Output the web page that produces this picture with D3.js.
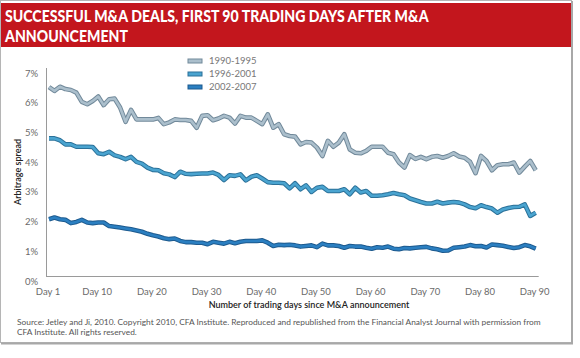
<!DOCTYPE html>
<html><head><meta charset="utf-8">
<script src="https://cdn.jsdelivr.net/npm/d3@7"></script>
<style>
html,body{margin:0;padding:0;background:#fff;}
svg{display:block;}
text{font-family:Lato,"Open Sans",sans-serif;}
</style></head>
<body>
<svg id="c" width="580" height="358"></svg>
<script>
const titleLines = ["SUCCESSFUL M&A DEALS, FIRST 90 TRADING DAYS AFTER M&A", "ANNOUNCEMENT"];
const seriesNames = ["1990-1995", "1996-2001", "2002-2007"];
const days = d3.range(1, 91);
const s1990 = [6.36,6.23,6.37,6.29,6.26,6.17,5.86,5.78,5.89,6.04,5.75,5.95,5.97,5.67,5.19,5.59,5.27,5.27,5.27,5.27,5.32,5.11,5.17,5.27,5.25,5.25,5.22,4.99,5.39,5.41,5.24,5.30,5.39,5.33,5.13,5.39,5.33,5.33,5.22,5.11,5.44,4.99,5.11,4.77,4.71,4.69,4.43,4.51,4.49,4.32,4.04,4.55,4.35,4.49,4.77,4.26,4.15,4.13,4.21,4.35,4.35,4.35,4.15,4.10,3.82,3.65,4.07,3.94,4.01,3.93,4.01,4.04,3.98,4.04,4.13,4.02,3.98,3.84,3.46,4.04,3.87,3.56,3.73,3.76,3.76,3.82,3.48,3.68,3.87,3.56];
const s1996 = [4.63,4.63,4.57,4.43,4.43,4.35,4.35,4.35,4.34,4.13,4.10,4.18,4.06,4.01,3.93,4.01,3.84,3.78,3.65,3.57,3.56,3.46,3.42,3.33,3.51,3.44,3.43,3.44,3.45,3.45,3.48,3.40,3.23,3.39,3.37,3.42,3.22,3.34,3.39,3.28,3.16,3.14,3.14,3.12,2.95,3.12,2.92,3.05,2.83,2.97,3.00,2.86,2.86,2.86,2.92,2.75,2.97,2.81,2.86,2.70,2.70,2.72,2.75,2.79,2.75,2.72,2.61,2.55,2.49,2.44,2.44,2.50,2.44,2.47,2.49,2.47,2.41,2.32,2.28,2.38,2.32,2.27,2.13,2.24,2.29,2.32,2.33,2.41,2.02,2.13];
const s2002 = [1.91,1.97,1.91,1.89,1.78,1.82,1.89,1.80,1.78,1.80,1.80,1.68,1.66,1.63,1.60,1.57,1.53,1.49,1.42,1.37,1.33,1.27,1.24,1.26,1.18,1.14,1.14,1.12,1.12,1.07,1.15,1.12,1.09,1.15,1.10,1.15,1.18,1.18,1.18,1.20,1.12,1.01,1.05,1.04,1.05,1.03,0.99,1.01,1.03,0.97,1.09,1.03,1.03,1.01,0.95,1.01,0.99,0.99,0.95,0.92,0.97,0.95,0.99,0.92,0.90,0.94,0.93,0.95,0.97,0.98,0.93,0.90,0.85,0.86,0.95,0.97,0.99,1.04,1.00,1.01,0.96,1.06,1.04,1.02,0.98,0.94,0.97,1.04,1.00,0.92];
const xTickDays = [1,10,20,30,40,50,60,70,80,90];
const xTickLabels = ["Day 1","Day 10","Day 20","Day 30","Day 40","Day 50","Day 60","Day 70","Day 80","Day 90"];
const yTicks = [0,1,2,3,4,5,6,7];
const yTickLabels = ["0%","1%","2%","3%","4%","5%","6%","7%"];
const xTitle = "Number of trading days since M&A announcement";
const yTitle = "Arbitrage spread";
const sourceLines = ["Source: Jetley and Ji, 2010. Copyright 2010, CFA Institute. Reproduced and republished from the Financial Analyst Journal with permission from", "CFA Institute. All rights reserved."];

const fills = ["#abbfcc", "#4aa4d0", "#2b7fc1"];
const edges = ["#71899a", "#2b7199", "#1d5a8e"];
const allSeries = [s1990, s1996, s2002];

const svg = d3.select("#c");

// frame
svg.append("rect").attr("x",0.5).attr("y",0.5).attr("width",571).attr("height",342)
  .attr("fill","#fff").attr("stroke","#b5b5b5").attr("stroke-width",1);
svg.append("line").attr("x1",572).attr("x2",572).attr("y1",1).attr("y2",344).attr("stroke","#a8a8a8").attr("stroke-width",2);
svg.append("line").attr("x1",1).attr("x2",573).attr("y1",343.5).attr("y2",343.5).attr("stroke","#a8a8a8").attr("stroke-width",2);

// header
svg.append("rect").attr("x",1).attr("y",3).attr("width",570).attr("height",44).attr("fill","#c3161d");
const tg = svg.append("g");
const tt = tg.selectAll("text").data(titleLines).join("text")
  .attr("x",0).attr("y",(d,i)=>i*20)
  .attr("fill","#fff").attr("font-weight",900).attr("font-size",17.5)
  .text(d=>d);
const w0 = tt.nodes()[0].getComputedTextLength();
const sx = 424 / w0;
tg.attr("transform",`translate(5,22) scale(${sx},1)`);

const x = d3.scaleLinear().domain([1,90]).range([49,535.7]);
const y = d3.scaleLinear().domain([0,7]).range([276,68]);

// axes lines
svg.append("line").attr("x1",46.5).attr("x2",46.5).attr("y1",y(7)).attr("y2",y(0)).attr("stroke","#9a9a9a").attr("stroke-width",1);
svg.append("line").attr("x1",46).attr("x2",x(90)+3).attr("y1",y(0)+0.5).attr("y2",y(0)+0.5).attr("stroke","#9a9a9a").attr("stroke-width",1);

// y tick labels
svg.append("g").selectAll("text").data(yTicks).join("text")
  .attr("x",38).attr("y",d=>y(d)+8.5).attr("text-anchor","end")
  .attr("font-size",9.5).attr("fill","#6a6a6a").text((d,i)=>yTickLabels[i]);
// x tick labels
svg.append("g").selectAll("text").data(xTickDays).join("text")
  .attr("x",d=>x(d)-1).attr("y",295).attr("text-anchor","middle")
  .attr("font-size",9.5).attr("fill","#6a6a6a").text((d,i)=>xTickLabels[i]);

// titles
svg.append("text").attr("transform","translate(21,172) rotate(-90)").attr("text-anchor","middle")
  .attr("font-size",9).attr("font-weight",600).attr("fill","#222").text(yTitle);
svg.append("text").attr("x",309).attr("y",308).attr("text-anchor","middle")
  .attr("font-size",9).attr("font-weight",600).attr("fill","#222").text(xTitle);

// source
svg.append("g").selectAll("text").data(sourceLines).join("text")
  .attr("x",17).attr("y",(d,i)=>324.5+i*10.5).attr("font-size",8.35).attr("fill","#555").text(d=>d);

// lines
const line = d3.line().x((d,i)=>x(days[i])).y(d=>y(d)).curve(d3.curveLinear);
allSeries.forEach((s,k)=>{
  svg.append("path").attr("d",line(s)).attr("fill","none").attr("stroke",edges[k]).attr("stroke-width",4.6).attr("stroke-linejoin","round");
  svg.append("path").attr("d",line(s)).attr("fill","none").attr("stroke",fills[k]).attr("stroke-width",2.6).attr("stroke-linejoin","round");
});

// legend
const lg = svg.append("g").selectAll("g").data(seriesNames).join("g")
  .attr("transform",(d,i)=>`translate(188,${61+i*13})`);
lg.append("rect").attr("x",0).attr("y",-2).attr("width",14).attr("height",4).attr("fill",(d,i)=>fills[i]).attr("stroke",(d,i)=>edges[i]).attr("stroke-width",1);
lg.append("text").attr("x",21).attr("y",3.3).attr("font-size",9.5).attr("fill","#777").text(d=>d);
</script>
</body></html>
